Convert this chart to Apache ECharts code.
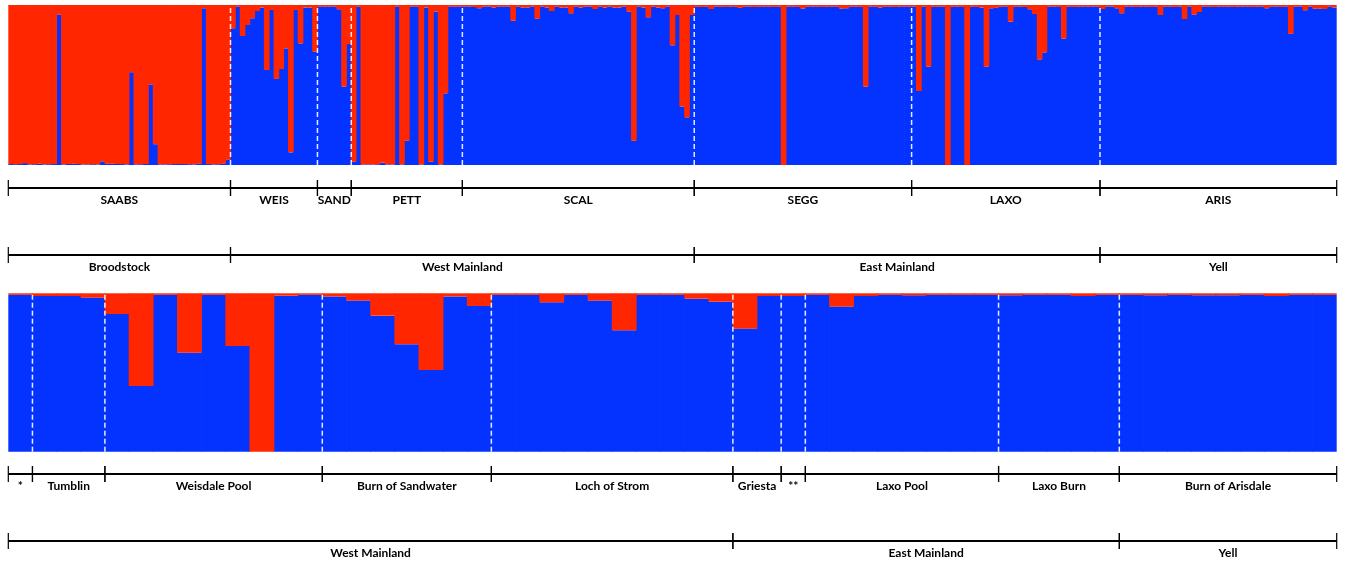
<!DOCTYPE html>
<html><head><meta charset="utf-8">
<script src="https://cdn.jsdelivr.net/npm/echarts@6/dist/echarts.min.js"></script>
<style>html,body{margin:0;padding:0;background:#fff}#c{width:1345px;height:564px}</style>
</head><body><div id="c"></div>
<script>
// ---- Top panel: blue-cluster membership per individual, by population ----
const SAABS = [0.006,0.005,0.006,0.012,0.004,0.005,0.008,0.004,0.005,0.006,0.94,0.004,0.007,0.008,0.006,0.003,0.004,0.005,0.004,0.023,0.008,0.008,0.007,0.006,0.004,0.58,0.004,0.005,0.007,0.504,0.13,0.004,0.004,0.005,0.006,0.007,0.006,0.005,0.004,0.01,0.98,0.006,0.004,0.005,0.01,0.035];
const WEIS = [0.854,0.99,0.806,0.875,0.917,0.962,0.985,0.594,0.969,0.538,0.60,0.729,0.079,0.969,0.76,0.985,0.985,0.708];
const SAND = [0.99,0.99,0.99,0.99,0.973,0.49,0.756];
const PETT = [0.02,0.99,0.003,0.004,0.003,0.005,0.015,0.004,0.003,0.99,0.004,0.152,0.99,0.99,0.003,0.985,0.02,0.96,0.004,0.448,0.99,0.99,0.99];
const SCAL = [0.99,0.99,0.988,0.98,0.99,0.99,0.985,0.99,0.99,0.99,0.902,0.99,0.985,0.985,0.99,0.915,0.99,0.985,0.9625,0.99,0.985,0.985,0.948,0.99,0.985,0.99,0.99,0.975,0.99,0.985,0.99,0.985,0.985,0.99,0.958,0.152,0.99,0.985,0.923,0.99,0.985,0.98,0.99,0.748,0.9375,0.365,0.298,0.9375];
const SEGG = [0.99,0.988,0.99,0.975,0.99,0.99,0.988,0.99,0.99,0.982,0.99,0.99,0.988,0.99,0.99,0.99,0.988,0.99,0.0,0.99,0.99,0.988,0.978,0.99,0.99,0.99,0.988,0.99,0.99,0.99,0.978,0.98,0.99,0.99,0.988,0.49,0.99,0.99,0.985,0.99,0.99,0.988,0.99,0.99,0.99];
const LAXO = [0.99,0.4625,0.99,0.615,0.99,0.99,0.99,0.0,0.99,0.99,0.988,0.0,0.99,0.988,0.985,0.615,0.98,0.982,0.99,0.99,0.896,0.99,0.99,0.988,0.973,0.944,0.66,0.704,0.99,0.99,0.988,0.79,0.99,0.988,0.99,0.99,0.99,0.99,0.99];
const ARIS = [0.975,0.99,0.99,0.98,0.948,0.99,0.99,0.988,0.99,0.99,0.988,0.99,0.9375,0.99,0.99,0.988,0.99,0.9125,0.99,0.94,0.956,0.99,0.99,0.988,0.99,0.99,0.99,0.988,0.99,0.99,0.99,0.988,0.99,0.99,0.98,0.99,0.99,0.988,0.99,0.82,0.99,0.99,0.967,0.99,0.978,0.978,0.975,0.99,0.985];
const topPopNames = ['SAABS','WEIS','SAND','PETT','SCAL','SEGG','LAXO','ARIS'];
const topPopData = [SAABS,WEIS,SAND,PETT,SCAL,SEGG,LAXO,ARIS];
const topRegionNames = ['Broodstock','West Mainland','East Mainland','Yell'];
const topRegionPopCounts = [1,4,2,1];

// ---- Bottom panel: blue-cluster membership per site sample ----
const bottomValues = [0.99,0.983,0.983,0.973,0.869,0.415,0.99,0.625,0.99,0.667,0.0,0.985,0.99,0.98,0.954,0.859,0.678,0.516,0.98,0.92,0.99,0.99,0.943,0.99,0.954,0.766,0.99,0.99,0.966,0.947,0.777,0.983,0.983,0.99,0.916,0.983,0.99,0.987,0.99,0.99,0.99,0.988,0.99,0.99,0.983,0.99,0.99,0.988,0.99,0.988,0.988,0.99,0.983,0.99,0.99];
const bottomSiteNames = ['*','Tumblin','Weisdale Pool','Burn of Sandwater','Loch of Strom','Griesta','**','Laxo Pool','Laxo Burn','Burn of Arisdale'];
const bottomSiteSizes = [1,3,9,7,10,2,1,8,5,9];
const bottomRegionNames = ['West Mainland','East Mainland','Yell'];
const bottomRegionSiteCounts = [5,4,1];

const BLUE = '#0433FF', RED = '#FF2600';
const FONT = 'Lato, "Open Sans", sans-serif';

// build arrays
const topBlue = [].concat(...topPopData);
const topRed = topBlue.map(v => 1 - v);
const topCats = [];
topPopData.forEach((arr, p) => arr.forEach((v, i) => topCats.push(topPopNames[p] + ' ' + (i + 1))));
const topSizes = topPopData.map(a => a.length);
const botRed = bottomValues.map(v => 1 - v);
const botCats = bottomValues.map((v, i) => 'S' + (i + 1));
const NT = topBlue.length, NB = bottomValues.length;

function segments(sizes) {
  const out = []; let s = 0;
  sizes.forEach((n, i) => { out.push([s, s + n, i]); s += n; });
  return out;
}
function groupSizes(sizes, counts) {
  const out = []; let k = 0;
  counts.forEach(c => { let t = 0; for (let j = 0; j < c; j++) t += sizes[k++]; out.push(t); });
  return out;
}
const topPopSeg = segments(topSizes).map(s => [s[0], s[1], s[2], 0]);
const topRegSeg = segments(groupSizes(topSizes, topRegionPopCounts)).map(s => [s[0], s[1], s[2], 1]);
const botPopSeg = segments(bottomSiteSizes).map(s => [s[0], s[1], s[2], 0]);
const botRegSeg = segments(groupSizes(bottomSiteSizes, bottomRegionSiteCounts)).map(s => [s[0], s[1], s[2], 1]);
const topBounds = topPopSeg.slice(1).map(s => [s[0]]);
const botBounds = botPopSeg.slice(1).map(s => [s[0]]);

function bracketRenderer(popNames, regNames, segs) {
  return function (params, api) {
    const seg = segs[params.dataIndex];
    const name = seg[3] === 0 ? popNames[seg[2]] : regNames[seg[2]];
    const p0 = api.coord([seg[0], seg[3]]), p1 = api.coord([seg[1], seg[3]]);
    return { type: 'group', children: [
      { type: 'line', shape: { x1: p0[0], y1: p0[1], x2: p1[0], y2: p1[1] }, style: { stroke: '#000', lineWidth: 2 } },
      { type: 'line', shape: { x1: p0[0], y1: p0[1] - 8, x2: p0[0], y2: p0[1] + 8 }, style: { stroke: '#000', lineWidth: 1.2 } },
      { type: 'line', shape: { x1: p1[0], y1: p1[1] - 8, x2: p1[0], y2: p1[1] + 8 }, style: { stroke: '#000', lineWidth: 1.2 } },
      { type: 'text', style: { text: name, x: (p0[0] + p1[0]) / 2, y: p0[1] + 12.5, align: 'center', verticalAlign: 'middle',
        fontSize: 12, fontWeight: 'bold', fontFamily: FONT, fill: '#000' } }
    ]};
  };
}
function sepRenderer(params, api) {
  const b = api.value(0);
  const p0 = api.coord([b, 0]), p1 = api.coord([b, 1]);
  return { type: 'line', shape: { x1: p0[0], y1: p0[1], x2: p1[0], y2: p1[1] },
    style: { stroke: '#ffffff', lineWidth: 1.5, lineDash: [5, 3], opacity: 0.9 } };
}
const topSegs = topPopSeg.concat(topRegSeg);
const botSegs = botPopSeg.concat(botRegSeg);

const L = 8.3, W = 1328.4;
const hiddenCat = (data, gi) => ({ type: 'category', data, gridIndex: gi, show: false, boundaryGap: true });
const hiddenVal = (max, gi) => ({ type: 'value', min: 0, max, gridIndex: gi, show: false });
const barStyle = c => ({ color: c, borderWidth: 0 });

const chart = echarts.init(document.getElementById('c'), null, { renderer: 'canvas' });
chart.setOption({
  animation: false,
  backgroundColor: '#fff',
  grid: [
    { left: L, width: W, top: 5, height: 160 },
    { left: L, width: W, top: 293.3, height: 158.4 },
    { left: L, width: W, top: 188, height: 67 },
    { left: L, width: W, top: 474, height: 67 }
  ],
  xAxis: [
    hiddenCat(topCats, 0), hiddenCat(botCats, 1),
    hiddenVal(NT, 0), hiddenVal(NB, 1),
    hiddenVal(NT, 2), hiddenVal(NB, 3)
  ],
  yAxis: [
    { type: 'value', min: 0, max: 1, gridIndex: 0, show: false },
    { type: 'value', min: 0, max: 1, gridIndex: 1, show: false },
    { type: 'value', min: 0, max: 1, gridIndex: 2, show: false, inverse: true },
    { type: 'value', min: 0, max: 1, gridIndex: 3, show: false, inverse: true }
  ],
  series: [
    { type: 'bar', xAxisIndex: 0, yAxisIndex: 0, stack: 't', data: topBlue, barWidth: '118%', itemStyle: barStyle(BLUE) },
    { type: 'bar', xAxisIndex: 0, yAxisIndex: 0, stack: 't', data: topRed, barWidth: '118%', itemStyle: barStyle(RED) },
    { type: 'bar', xAxisIndex: 1, yAxisIndex: 1, stack: 'b', data: bottomValues, barWidth: '103%', itemStyle: barStyle(BLUE) },
    { type: 'bar', xAxisIndex: 1, yAxisIndex: 1, stack: 'b', data: botRed, barWidth: '103%', itemStyle: barStyle(RED) },
    { type: 'custom', xAxisIndex: 2, yAxisIndex: 0, data: topBounds, renderItem: sepRenderer, z: 10, silent: true },
    { type: 'custom', xAxisIndex: 3, yAxisIndex: 1, data: botBounds, renderItem: sepRenderer, z: 10, silent: true },
    { type: 'custom', xAxisIndex: 4, yAxisIndex: 2, data: topSegs, renderItem: bracketRenderer(topPopNames, topRegionNames, topSegs), z: 10, silent: true, clip: false },
    { type: 'custom', xAxisIndex: 5, yAxisIndex: 3, data: botSegs, renderItem: bracketRenderer(bottomSiteNames, bottomRegionNames, botSegs), z: 10, silent: true, clip: false }
  ]
});
</script>
</body></html>
